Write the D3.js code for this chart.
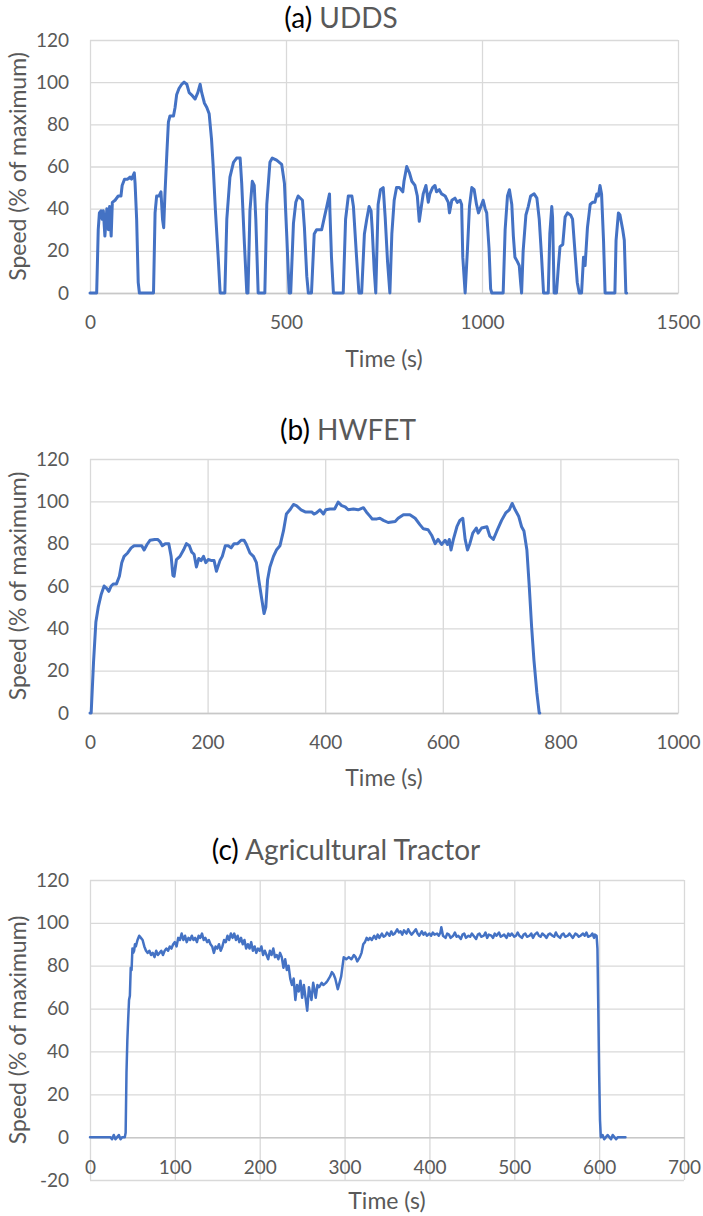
<!DOCTYPE html>
<html>
<head>
<meta charset="utf-8">
<script src="https://cdn.jsdelivr.net/npm/d3@7"></script>
<style>
  html, body { margin: 0; padding: 0; background: #fff; }
  svg { display: block; font-family: Lato, "Open Sans", sans-serif; }
</style>
</head>
<body>
<svg id="chart" width="703" height="1216"></svg>
<script>
// ---- (a) UDDS drive cycle: time (s) and speed (% of maximum) ----
const uddsTime = [0,17,21,24,28,31,34,38,43,47,50,54,57,64,72,79,82,88,96,102,106,113,115,119,123,126,
  162,166,170,176,181,185,188,191,196,200,204,213,217,221,227,234,240,247,253,259,268,275,281,285,292,298,304,310,314,320,327,332,
  344,349,357,366,374,383,387,394,400,403,408,414,419,423,429,446,451,459,465,476,489,496,502,508,512,519,525,531,542,547,553,557,
  565,572,578,591,598,604,611,612,616,621,646,652,659,668,672,680,686,693,700,706,712,717,720,725,729,735,741,748,753,759,765,
  770,776,782,789,798,801,808,815,821,829,835,840,846,850,857,863,867,874,880,884,891,897,906,914,917,923,931,937,944,948,951,957,
  963,968,974,980,986,991,995,1003,1008,1012,1018,1022,1025,1054,1059,1065,1070,1076,1080,1084,1090,1095,1099,1101,
  1105,1112,1118,1124,1133,1140,1146,1152,1157,1169,1173,1178,1180,1184,1190,1195,1199,1206,1212,1218,1226,1231,1237,1243,1248,
  1254,1259,1263,1269,1276,1282,1288,1293,1297,1301,1305,1310,1314,1339,1342,1348,1352,1359,1363,1367,1369];
const uddsSpeed = [0,0,30,38,39,35,39,27,40,30,41,27,43,44,46,46,51,54,54,55,54,57,52,35,5,0,
  0,38,46,46,48,35,31,46,66,81,84,84,88,94,97,99,100,99,95,94,92,95,99,95,90,88,85,73,61,39,17,0,
  0,35,55,62,64,64,52,23,0,0,39,53,51,35,0,0,42,62,64,63,61,52,27,0,0,33,43,46,44,31,8,0,
  0,28,30,30,36,41,47,39,17,0,0,35,46,46,41,17,0,0,28,35,41,39,30,11,0,42,49,50,36,15,0,
  28,44,50,50,48,53,60,57,53,51,46,34,42,47,51,43,47,50,51,48,49,47,46,43,38,44,45,43,44,42,17,0,
  21,41,50,49,42,38,40,44,40,38,21,2,0,0,30,46,49,42,27,17,15,13,4,0,
  20,37,41,46,47,45,35,17,0,0,28,41,36,0,0,13,22,23,36,38,37,35,20,5,0,
  0,17,13,31,42,43,43,47,46,51,47,25,0,0,25,38,37,30,25,0,0];
const uddsTicksX = [0, 500, 1000, 1500];

// ---- (b) HWFET drive cycle ----
const hwfetTime = [0,2,6,10,14,19,24,28,32,36,40,45,50,54,58,64,70,75,82,88,92,97,102,110,115,119,123,128,134,138,141,143,147,153,159,164,169,173,177,181,185,189,193,197,201,207,211,215,221,225,230,235,240,245,251,257,262,266,272,278,283,287,292,296,299,302,306,312,317,323,329,334,340,346,351,359,366,372,377,381,385,391,397,401,408,416,422,428,434,439,448,456,465,470,476,480,488,493,499,507,519,524,533,544,553,561,567,575,581,587,592,598,604,608,611,614,618,624,629,634,638,642,646,651,657,660,666,675,680,686,692,700,707,713,718,723,729,734,738,743,747,751,755,760,764,765];
const hwfetSpeed = [0,0,24,43,50,56,60,59,57.5,60,61,61,64.6,71,74,75.6,78,79,79,79,77,79.6,81.6,82,82,81,79,80,80,74,65,64.6,72.5,74,77,80,79,76,75,69,73,72,74,71,72.5,72,72,67,72,74,79,79,78,80,80,81.6,81.6,79.6,75.6,74,71,63,54,47,50,63,69,74,77,79,86,94,96,98.5,98,96,95,95,95,94,94.5,96,94,96,96.4,96.4,99.6,98,97.4,96,96.4,96,97,95,93,91.7,91.7,92,91,90,90.5,92,93.7,93.7,92,89,87,86.6,84,80,82,79.6,81.6,79.6,82,77,82,88,91,92,82,77,80,85,87.4,85,87.4,88,83.5,82,86,91,94.5,96,99,96,93,88,86,77,60,41,25,9.5,0,0];
const hwfetTicksX = [0, 200, 400, 600, 800, 1000];

// ---- (c) Agricultural tractor cycle ----
// start-up, working and shut-down phases
const tractorTime = [0,5,10,15,20,24,26,28,30,32,34,36,38,41,42,43,44,45,46,47,48,49,50,51,52,53,54,56,58,60,62,64,66,68,70,72,74,76,78,80,82,84,86,88,90,92,94,96,98,100,102,104,106,108,110,112,114,116,118,120,122,124,126,128,130,132,134,136,138,140,142,144,146,148,150,152,154,156,158,160,162,164,166,168,170,172,174,176,178,180,182,184,186,188,190,192,194,196,198,200,202,204,206,208,210,212,214,216,218,220,222,224,226,228,230,232,234,236,238,240,242,244,246,248,250,252,254,256,258,260,261,263,264,266,268,270,273,275,278,280,283,285,287,289,292,294,296,299,302,305,308,311,313,315,318,320,322,324,326,328,330,332,
  335,337,339,341,344,346,348,350,353,355,357,359,362,364,366,368,370,373,375,377,379,382,384,386,388,391,393,395,397,400,402,404,406,409,411,413,414,416,419,421,423,425,428,430,432,434,437,439,441,443,446,448,450,452,455,457,459,461,464,466,468,470,473,475,477,479,482,484,486,488,491,493,495,497,500,502,504,506,509,511,513,515,518,520,522,524,527,529,531,533,536,538,540,542,545,547,549,551,554,556,558,560,563,565,567,569,572,574,576,578,581,583,585,587,590,592,594,595,597,
  598,599,600,601,602,604,606,608,610,612,614,616,618,620,622,625,628,631];
const tractorSpeed = [0,0,0,0,0,0,-1,1,-1,0,1,-1,0,0,2,30,45,55,64,66,79,78,88,86,87,90,89,92,94,93,92,89,87,86,87,85,86,84,87,85,86,87,85,87,88,87,89,88,90,91,89,93,92,95,92,94,91,93,92,94,92,93,91,94,93,95,92,93,91,92,90,89,86,89,88,90,87,89,92,91,94,92,95,93,95,92,94,91,93,90,92,88,90,88,91,87,89,86,88,87,89,85,87,85,83,87,85,88,84,85,83,86,84,79,83,78,80,74,71,74,64,71,68,73,65,71,65,59,70,66,64,72,70,65,71,70,72,71,72,73,75,77,76,74,69,72,75,84,83,84,83,85,84,82,84,86,90,91,93,92,93,92,
  94,92.5,94.5,93,95,93.5,94,95.5,94,96,94.5,95,97,95.5,96,94.5,96.5,95,97,95.5,94.5,96,97,95,94,96,94.5,95.5,94,95,94,95.5,94.5,95,94,95.5,98,94,93,95,94.5,93,94,95.5,93.5,94,92.5,94.5,95,93,94,93.5,95,94,92.5,94.5,95,93.5,94,95.5,93,94.5,94,93,95,94,95.5,93.5,94,94.5,93,95,94,95,93.5,94,95.5,94,93,94.5,95,93.5,94,95,93,94.5,95.5,94,93.5,95,94,93,94.5,95,94,93.5,95.5,94,93,94.5,95,93.5,94,95,94,93,95,94.5,93.5,94,95,94,95.5,93.5,94,95,93,94.5,94,
  88,60,30,8,0,1,-1,0,1,0,-1,1,0,-1,0,0,0,0];
const tractorTicksX = [0, 100, 200, 300, 400, 500, 600, 700];

const speedTicks = [0, 20, 40, 60, 80, 100, 120];
const tractorSpeedTicks = [-20, 0, 20, 40, 60, 80, 100, 120];

const LINE_COLOR = "#4472C4";
const GRID_COLOR = "#d9d9d9";
const TEXT_COLOR = "#595959";

const svg = d3.select("#chart");
svg.append("rect").attr("width", 703).attr("height", 1216).attr("fill", "#fff");

// plain integer labels with an ASCII hyphen for negatives
const intLabel = d => String(d);

function drawPanel(opt) {
  const x = d3.scaleLinear().domain([0, opt.xMax]).range([opt.left, opt.right]);
  const y = d3.scaleLinear().domain([opt.yMin, opt.yMax]).range([opt.bottom, opt.top]);
  const g = svg.append("g");

  // horizontal gridlines + y tick labels
  const yAxis = g.append("g")
    .attr("transform", `translate(${opt.left},0)`)
    .call(d3.axisLeft(y).tickValues(opt.yTicks).tickSize(-(opt.right - opt.left)).tickPadding(21).tickFormat(intLabel));
  yAxis.select(".domain").remove();
  yAxis.selectAll("line").attr("stroke", GRID_COLOR).attr("stroke-width", 1.3);
  yAxis.selectAll("text").attr("fill", TEXT_COLOR).style("font-size", "19px").style("font-family", "Lato");

  // vertical gridlines
  const xGrid = g.append("g")
    .attr("transform", `translate(0,${opt.bottom})`)
    .call(d3.axisBottom(x).tickValues(opt.xTicks).tickSize(-(opt.bottom - opt.top)).tickFormat(""));
  xGrid.select(".domain").remove();
  xGrid.selectAll("line").attr("stroke", GRID_COLOR).attr("stroke-width", 1.3);

  // horizontal axis at zero
  const xAxis = g.append("g")
    .attr("transform", `translate(0,${y(0)})`)
    .call(d3.axisBottom(x).tickValues(opt.xTicks).tickSize(0).tickPadding(23).tickFormat(intLabel));
  xAxis.select(".domain").attr("stroke", "#c8c8c8").attr("stroke-width", 1.5);
  xAxis.selectAll("text").attr("fill", TEXT_COLOR).style("font-size", "19px").style("font-family", "Lato");

  // series
  const pts = opt.time.map((t, i) => [t, opt.speed[i]]);
  g.append("path")
    .datum(pts)
    .attr("fill", "none")
    .attr("stroke", LINE_COLOR)
    .attr("stroke-width", opt.lineWidth)
    .attr("stroke-linejoin", "round")
    .attr("stroke-linecap", "round")
    .attr("d", d3.line().x(d => x(d[0])).y(d => y(d[1])));

  // chart title
  const title = g.append("text")
    .attr("x", opt.titleX).attr("y", opt.titleY)
    .attr("text-anchor", "middle").attr("dominant-baseline", "central")
    .style("font-size", "28px");
  title.append("tspan").attr("fill", "#000").text(opt.label + " ");
  title.append("tspan").attr("fill", TEXT_COLOR).text(opt.name);

  // axis titles
  g.append("text")
    .attr("x", (opt.left + opt.right) / 2).attr("y", opt.xTitleY)
    .attr("text-anchor", "middle").attr("dominant-baseline", "central")
    .attr("fill", TEXT_COLOR).style("font-size", "23px")
    .text("Time (s)");
  g.append("text")
    .attr("transform", `translate(17,${(opt.top + opt.bottom) / 2}) rotate(-90)`)
    .attr("text-anchor", "middle").attr("dominant-baseline", "central")
    .attr("fill", TEXT_COLOR).style("font-size", "23px")
    .text("Speed (% of maximum)");
}

drawPanel({
  label: "(a)", name: "UDDS", time: uddsTime, speed: uddsSpeed,
  xMax: 1500, xTicks: uddsTicksX, yMin: 0, yMax: 120, yTicks: speedTicks,
  left: 90, right: 678, top: 40, bottom: 293,
  titleX: 341, titleY: 17, xTitleY: 358, lineWidth: 3
});
drawPanel({
  label: "(b)", name: "HWFET", time: hwfetTime, speed: hwfetSpeed,
  xMax: 1000, xTicks: hwfetTicksX, yMin: 0, yMax: 120, yTicks: speedTicks,
  left: 90, right: 678, top: 459, bottom: 713,
  titleX: 348, titleY: 429, xTitleY: 777, lineWidth: 3
});
drawPanel({
  label: "(c)", name: "Agricultural Tractor", time: tractorTime, speed: tractorSpeed,
  xMax: 700, xTicks: tractorTicksX, yMin: -20, yMax: 120, yTicks: tractorSpeedTicks,
  left: 90, right: 684, top: 880, bottom: 1180,
  titleX: 346, titleY: 849, xTitleY: 1200, lineWidth: 2.5
});
</script>
</body>
</html>
